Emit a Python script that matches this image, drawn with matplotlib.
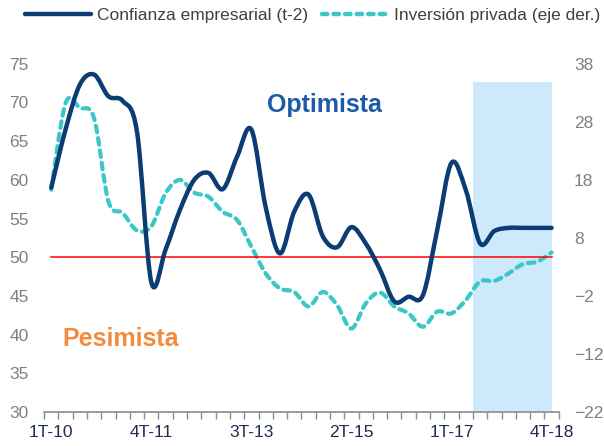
import numpy as np
import matplotlib
matplotlib.use("Agg")
import matplotlib.pyplot as plt
from matplotlib.path import Path
from matplotlib.patches import PathPatch
from matplotlib.lines import Line2D

plt.rcParams["font.family"] = ["Liberation Sans", "DejaVu Sans"]

# ── Data ──
quarters = [f"{q}T-{y:02d}" for y in range(10, 19) for q in range(1, 5)]
tick_labels = ["1T-10", "4T-11", "3T-13", "2T-15", "1T-17", "4T-18"]

confianza = [59.0, 66.5, 72.3, 73.6, 70.8, 70.2, 66.2, 46.8, 51.0, 56.1,
             60.0, 60.9, 58.8, 63.0, 66.5, 56.5, 50.5, 55.9, 58.1, 52.7,
             51.3, 53.9, 51.8, 48.4, 44.3, 44.9, 45.1, 53.5, 62.2, 58.7,
             51.8, 53.4, 53.8, 53.8, 53.8, 53.8]
inversion = [16.3, 31.2, 30.4, 28.6, 14.3, 12.3, 9.3, 10.0, 15.7, 18.0,
             15.8, 15.1, 12.5, 11.1, 6.5, 1.9, -0.7, -1.3, -3.8, -1.3,
             -3.6, -7.6, -3.3, -1.4, -3.8, -5.0, -7.3, -4.7, -5.0, -2.7,
             0.5, 0.6, 1.9, 3.5, 3.9, 5.5]
umbral = [50] * len(quarters)
proyeccion = ("3T-17", "4T-18")

NAVY = "#0B3C73"
CYAN = "#3CC6C8"


def smooth_path(xs, ys):
    # Excel-like smoothed line as cubic Bezier segments
    pts = np.column_stack([xs, ys]).astype(float)
    n = len(pts)
    verts = [pts[0]]
    codes = [Path.MOVETO]
    for i in range(n - 1):
        p0 = pts[i - 1] if i > 0 else pts[i]
        p1, p2 = pts[i], pts[i + 1]
        p3 = pts[i + 2] if i + 2 < n else pts[i + 1]
        c1 = p1 + (p2 - p0) / 6.0
        c2 = p2 - (p3 - p1) / 6.0
        verts += [c1, c2, p2]
        codes += [Path.CURVE4] * 3
    return Path(verts, codes)


x = np.arange(len(quarters))

fig = plt.figure(figsize=(6.04, 4.46), dpi=100, facecolor="white")
ax = fig.add_axes([0.073, 0.076, 0.852, 0.781])
ax2 = ax.twinx()
ax.set_zorder(ax2.get_zorder() + 1)
ax.patch.set_visible(False)

# shaded projection area (behind everything)
i0 = quarters.index(proyeccion[0])
i1 = quarters.index(proyeccion[1])
ax2.axvspan(i0 - 0.5, i1, ymin=0, ymax=(72.7 - 30) / 45, color="#CDE9FB", lw=0, zorder=0)

# investment on right axis
p_inv = PathPatch(smooth_path(x, inversion), fill=False, edgecolor=CYAN, lw=3.0,
                  linestyle=(0, (1.6, 1.4)), capstyle="round", zorder=2)
ax2.add_patch(p_inv)

# confidence on left axis
ax.plot(x, umbral, color="#FF0000", lw=1.1, zorder=2)
p_conf = PathPatch(smooth_path(x, confianza), fill=False, edgecolor=NAVY, lw=3.2,
                   capstyle="round", joinstyle="round", zorder=3)
ax.add_patch(p_conf)

ax.set_xlim(-0.5, len(quarters) - 0.5)
ax.set_ylim(30, 75)
ax.set_yticks(range(30, 80, 5))
ax2.set_ylim(-22, 38)
ax2.set_yticks(range(-22, 48, 10))

pos = [quarters.index(t) for t in tick_labels]
ax.set_xticks(pos)
ax.set_xticklabels(tick_labels)
ax.set_xticks(np.arange(-0.5, len(quarters), 1.0), minor=True)
ax.tick_params(axis="x", which="major", length=0, pad=9, labelsize=12.5, labelcolor="#1F2D4F")
ax.tick_params(axis="x", which="minor", length=5, width=1, color="#8C8C8C", direction="out")
ax.tick_params(axis="y", length=0, pad=11, labelsize=12.5, labelcolor="#7F7F7F")
ax2.tick_params(axis="y", length=0, pad=11, labelsize=12.5, labelcolor="#7F7F7F")

for a in (ax, ax2):
    for s in ("top", "left", "right"):
        a.spines[s].set_visible(False)
ax2.spines["bottom"].set_visible(False)
ax.spines["bottom"].set_color("#8C8C8C")
ax.spines["bottom"].set_linewidth(1.2)

ax.text(0.433, 0.882, "Optimista", transform=ax.transAxes, color="#1E5AA8",
        fontsize=18, fontweight="bold", ha="left", va="center")
ax.text(0.035, 0.21, "Pesimista", transform=ax.transAxes, color="#F58A3C",
        fontsize=18, fontweight="bold", ha="left", va="center")

handles = [
    Line2D([], [], color=NAVY, lw=3.2, solid_capstyle="round"),
    Line2D([], [], color=CYAN, lw=3.2, linestyle=(0, (1.2, 1.4)), dash_capstyle="round"),
]
fig.legend(handles, ["Confianza empresarial (t-2)", "Inversión privada (eje der.)"],
           loc="upper left", bbox_to_anchor=(0.03, 0.998), ncol=2, frameon=False,
           fontsize=12.5, handlelength=3.8, handletextpad=0.35, columnspacing=0.8,
           borderaxespad=0, labelcolor="#404040")

fig.savefig("out.png", dpi=100, facecolor="white")
